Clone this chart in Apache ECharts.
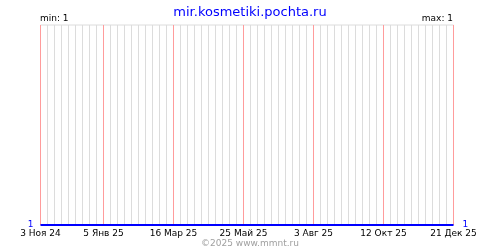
<!DOCTYPE html>
<html>
<head>
<meta charset="utf-8">
<script src="https://cdn.jsdelivr.net/npm/echarts@6/dist/echarts.min.js"></script>
<style>html,body{margin:0;padding:0;background:#fff}#c{width:500px;height:250px}</style>
</head>
<body>
<div id="c"></div>
<script>
const titleText = 'mir.kosmetiki.pochta.ru';
const footerText = '©2025 www.mmnt.ru';
const axisStart = '2024-11-03';
const axisEnd = '2025-12-21';
const tickDates = ['2024-11-03','2025-01-05','2025-03-16','2025-05-25','2025-08-03','2025-10-12','2025-12-21'];
const tickLabels = ['3 Ноя 24','5 Янв 25','16 Мар 25','25 Май 25','3 Авг 25','12 Окт 25','21 Дек 25'];
const seriesDates = ['2024-11-03','2025-12-21'];
const seriesValues = [1, 1];
const minValue = 1;
const maxValue = 1;

const DAY = 86400000;
const t0 = Date.parse(axisStart + 'T00:00:00Z');
const dayOf = d => Math.round((Date.parse(d + 'T00:00:00Z') - t0) / DAY);
const xMax = dayOf(axisEnd);
const tickDays = tickDates.map(dayOf);
const labelMap = {};
tickDays.forEach((d, i) => labelMap[d] = tickLabels[i]);
const weekDays = [];
for (let d = 0; d <= xMax; d += 7) if (tickDays.indexOf(d) < 0) weekDays.push(d);

const font = 'DejaVu Sans';
const chart = echarts.init(document.getElementById('c'), null, {renderer: 'canvas'});
chart.setOption({
  animation: false,
  backgroundColor: '#ffffff',
  title: {
    text: titleText, left: 'center', top: 1,
    textStyle: {color: '#0000ff', fontFamily: font, fontSize: 13, fontWeight: 'normal'}
  },
  graphic: [
    {type: 'text', left: 40, top: 14, style: {text: 'min: ' + minValue, fill: '#000', font: '9px "DejaVu Sans"'}},
    {type: 'text', right: 47, top: 14, style: {text: 'max: ' + maxValue, fill: '#000', font: '9px "DejaVu Sans"', textAlign: 'right'}},
    {type: 'text', left: 'center', top: 239, style: {text: footerText, fill: '#a0a0a0', font: '9px "DejaVu Sans"'}}
  ],
  grid: {left: 40.5, right: 46.5, top: 25, bottom: 25, show: true, borderColor: '#dcdcdc', borderWidth: 1, containLabel: false},
  xAxis: [
    {
      type: 'value', min: 0, max: xMax,
      axisLine: {show: false}, axisTick: {show: false, customValues: tickDays},
      axisLabel: {
        show: true, customValues: tickDays, margin: 4,
        formatter: v => labelMap[v] || '',
        color: '#000', fontFamily: font, fontSize: 9
      },
      splitLine: {show: false}
    }
  ],
  yAxis: [
    {
      type: 'value', min: 1, max: 2, interval: 1, position: 'left',
      axisLine: {show: false}, axisTick: {show: false}, splitLine: {show: false},
      axisLabel: {margin: 7, color: '#0000ff', fontFamily: font, fontSize: 9, formatter: v => v === minValue ? String(minValue) : ''}
    },
    {
      type: 'value', min: 1, max: 2, interval: 1, position: 'right',
      axisLine: {show: false}, axisTick: {show: false}, splitLine: {show: false},
      axisLabel: {margin: 9, color: '#0000ff', fontFamily: font, fontSize: 9, formatter: v => v === maxValue ? String(maxValue) : ''}
    }
  ],
  series: [
    {
      type: 'line', xAxisIndex: 0, yAxisIndex: 0, z: 1,
      data: seriesDates.map((d, i) => [dayOf(d), seriesValues[i]]),
      symbol: 'none', lineStyle: {opacity: 0},
      markLine: {
        silent: true, symbol: ['none', 'none'], label: {show: false},
        lineStyle: {color: '#dcdcdc', width: 1, type: 'solid'},
        emphasis: {disabled: true},
        data: weekDays.map(d => ({xAxis: d}))
      }
    },
    {
      type: 'line', xAxisIndex: 0, yAxisIndex: 0, z: 2,
      data: seriesDates.map((d, i) => [dayOf(d), seriesValues[i]]),
      symbol: 'none', lineStyle: {opacity: 0},
      markLine: {
        silent: true, symbol: ['none', 'none'], label: {show: false},
        lineStyle: {color: '#ff9c9c', width: 1, type: 'solid'},
        emphasis: {disabled: true},
        data: tickDays.map(d => ({xAxis: d}))
      }
    },
    {
      type: 'line', xAxisIndex: 0, yAxisIndex: 0, z: 10,
      data: seriesDates.map((d, i) => [dayOf(d), seriesValues[i]]),
      symbol: 'none', lineStyle: {color: '#0000ff', width: 2}
    }
  ]
});
</script>
</body>
</html>
